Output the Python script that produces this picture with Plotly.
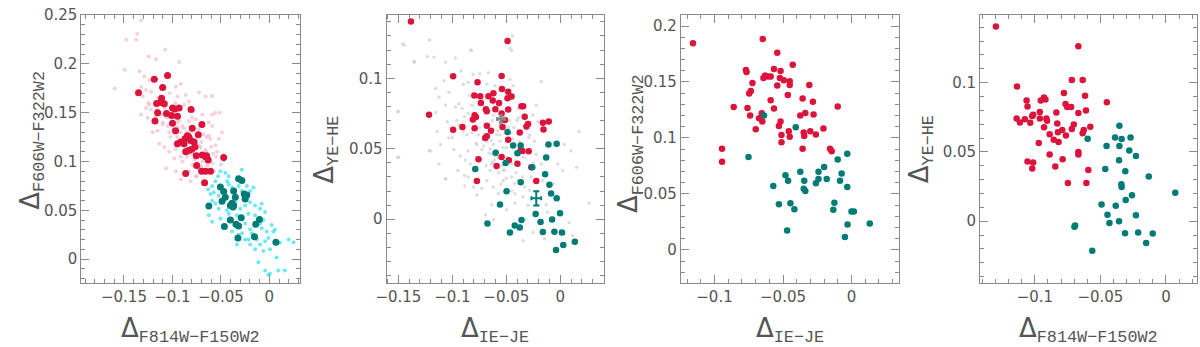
import plotly.graph_objects as go

# colours
RED = '#dc143c'
TEAL = '#007b76'
PINK = 'rgba(240,170,195,0.55)'
CYAN = 'rgba(60,225,240,0.75)'
GREY = 'rgba(200,200,200,0.6)'
FRAME = '#8a8a8a'

# ---- panel 1: F814W-F150W2 vs F606W-F322W2 ----
p1_red_x = [-0.1350, -0.1187, -0.1050, -0.1101, -0.1112, -0.1118, -0.1084, -0.1163, -0.0999, -0.0975,
            -0.0931, -0.1153, -0.1061, -0.1009, -0.0948, -0.1180, -0.0999, -0.0808, -0.0696, -0.0733,
            -0.0795, -0.0968, -0.0846, -0.0829, -0.0870, -0.0948, -0.0914, -0.0880, -0.0812, -0.0777,
            -0.0767, -0.0829, -0.0801, -0.0863, -0.0754, -0.0692, -0.0658, -0.0631, -0.0648, -0.0750,
            -0.0699, -0.0658, -0.0863, -0.0471, -0.0607, -0.0668]
p1_red_y = [0.1705, 0.1842, 0.1881, 0.1758, 0.1648, 0.1605, 0.1592, 0.1595, 0.1548, 0.1538,
            0.1548, 0.1499, 0.1492, 0.1472, 0.1465, 0.1415, 0.1392, 0.1532, 0.1379, 0.1275,
            0.1342, 0.1315, 0.1265, 0.1249, 0.1232, 0.1182, 0.1199, 0.1182, 0.1215, 0.1199,
            0.1149, 0.1116, 0.1126, 0.1099, 0.1059, 0.1066, 0.1049, 0.1016, 0.1059, 0.0959,
            0.0899, 0.0899, 0.0876, 0.1042, 0.0899, 0.0783]
p1_teal_x = [-0.0317, -0.0283, -0.0505, -0.0471, -0.0368, -0.0259, -0.0232, -0.0351, -0.0249, -0.0488,
             -0.0454, -0.0385, -0.0368, -0.0402, -0.0624, -0.0375, -0.0290, -0.0402, -0.0102, -0.0344,
             -0.0317, -0.0140, -0.0464, -0.0324, -0.0153, 0.0068]
p1_teal_y = [0.0823, 0.0806, 0.0739, 0.0693, 0.0699, 0.0666, 0.0656, 0.0633, 0.0616, 0.0593,
             0.0633, 0.0573, 0.0549, 0.0549, 0.0543, 0.0533, 0.0423, 0.0400, 0.0406, 0.0356,
             0.0340, 0.0356, 0.0333, 0.0216, 0.0230, 0.0173]
p1_pink_x = [-0.1364, -0.1374, -0.1477, -0.1074, -0.1245, -0.1170, -0.0931, -0.1494, -0.1596, -0.1340,
             -0.1289, -0.1238, -0.1323, -0.1272, -0.1221, -0.1306, -0.0965, -0.0914, -0.0948, -0.0863,
             -0.0726, -0.0658, -0.0590, -0.0829, -0.0880, -0.1238, -0.1272, -0.1221, -0.1323, -0.1255,
             -0.1170, -0.1101, -0.1204, -0.1153, -0.1050, -0.1033, -0.0897, -0.0829, -0.0760, -0.0692,
             -0.0624, -0.0590, -0.0556, -0.0590, -0.0522, -0.0488, -0.0624, -0.0556, -0.1136, -0.1084,
             -0.1033, -0.0965, -0.0914, -0.0982, -0.0897, -0.0795, -0.0743, -0.0590, -0.1067, -0.0914,
             -0.0812, -0.0760, -0.0965, -0.0726, -0.0829, -0.0850, -0.0750, -0.0700, -0.0650, -0.0950,
             -0.1000, -0.0800, -0.0650, -0.0600, -0.0550, -0.0500, -0.0570, -0.0750, -0.0700, -0.1080,
             -0.1150, -0.1250, -0.0900, -0.0950, -0.0850, -0.1100, -0.0730, -0.0780, -0.0970, -0.1030,
             -0.1323, -0.0512, -0.0680, -0.0880, -0.1020, -0.0790, -0.0720, -0.0930, -0.1120, -0.0610,
             -0.1160, -0.1060, -0.0990, -0.0920, -0.0860, -0.0810, -0.0760, -0.0710, -0.0660, -0.0620,
             -0.1090, -0.1010, -0.0940, -0.0870, -0.0820, -0.0770, -0.0690, -0.0640, -0.0580, -0.0540]
p1_pink_y = [0.2308, 0.2248, 0.2248, 0.2148, 0.2075, 0.2048, 0.2021, 0.1941, 0.1748, 0.1925,
             0.1871, 0.1832, 0.1765, 0.1732, 0.1715, 0.1665, 0.1765, 0.1798, 0.1665, 0.1682,
             0.1708, 0.1665, 0.1672, 0.1615, 0.1582, 0.1582, 0.1548, 0.1532, 0.1482, 0.1449,
             0.1449, 0.1399, 0.1299, 0.1315, 0.1365, 0.1299, 0.1365, 0.1415, 0.1432, 0.1482,
             0.1399, 0.1482, 0.1499, 0.1365, 0.1232, 0.1299, 0.1265, 0.1166, 0.1182, 0.1149,
             0.1099, 0.1132, 0.1049, 0.1032, 0.0999, 0.0966, 0.0982, 0.0982, 0.0932, 0.0816,
             0.0799, 0.0849, 0.0899, 0.0932, 0.0899, 0.1300, 0.1180, 0.1200, 0.1100, 0.1400,
             0.1450, 0.1450, 0.1250, 0.1150, 0.1050, 0.0970, 0.0900, 0.0850, 0.0950, 0.1550,
             0.1650, 0.1600, 0.1200, 0.1250, 0.1050, 0.1380, 0.1330, 0.1520, 0.1600, 0.1700,
             0.2448, 0.1500, 0.1280, 0.1340, 0.1250, 0.1080, 0.1160, 0.1420, 0.1480, 0.1230,
             0.1530, 0.1450, 0.1330, 0.1300, 0.1180, 0.1300, 0.1220, 0.1140, 0.1120, 0.1040,
             0.1480, 0.1380, 0.1350, 0.1150, 0.1080, 0.1020, 0.1000, 0.0960, 0.1080, 0.1100]
p1_cyan_x = [-0.0529, -0.0505, -0.0471, -0.0454, -0.0419, -0.0283, -0.0556, -0.0590, -0.0631, -0.0607,
             -0.0573, -0.0522, -0.0419, -0.0385, -0.0317, -0.0232, -0.0198, -0.0164, -0.0590, -0.0556,
             -0.0522, -0.0436, -0.0419, -0.0249, -0.0198, -0.0147, -0.0095, -0.0351, -0.0300, -0.0624,
             -0.0590, -0.0505, -0.0334, -0.0215, -0.0147, -0.0044, -0.0061, -0.0095, -0.0249, -0.0198,
             -0.0181, -0.0078, -0.0027, -0.0010, 0.0041, 0.0058, -0.0044, -0.0215, -0.0317, -0.0385,
             -0.0334, -0.0198, -0.0147, -0.0095, -0.0061, 0.0007, 0.0075, 0.0109, -0.0113, 0.0007,
             -0.0044, 0.0092, 0.0160, -0.0249, -0.0283, -0.0130, -0.0232, -0.0436, -0.0283, -0.0078,
             -0.0147, 0.0024, 0.0250, 0.0200, -0.0010]
p1_cyan_y = [0.0849, 0.0899, 0.1016, 0.0882, 0.0849, 0.0916, 0.0799, 0.0749, 0.0716, 0.0666,
             0.0683, 0.0649, 0.0766, 0.0733, 0.0749, 0.0749, 0.0699, 0.0733, 0.0599, 0.0566,
             0.0516, 0.0500, 0.0466, 0.0549, 0.0583, 0.0549, 0.0516, 0.0583, 0.0516, 0.0450,
             0.0383, 0.0416, 0.0450, 0.0466, 0.0450, 0.0483, 0.0400, 0.0366, 0.0366, 0.0306,
             0.0266, 0.0316, 0.0283, 0.0216, 0.0283, 0.0300, 0.0183, 0.0200, 0.0250, 0.0283,
             0.0150, 0.0150, 0.0100, 0.0150, 0.0083, 0.0100, 0.0017, 0.0167, -0.0033, -0.0150,
             -0.0117, -0.0117, -0.0117, 0.0200, 0.0266, 0.0200, 0.0633, 0.0799, 0.0699, 0.0566,
             0.0366, 0.0350, 0.0173, 0.0200, -0.0160]

# ---- panel 2: IE-JE vs YE-HE ----
p2_red_x = [-0.1384, -0.0489, -0.0993, -0.0544, -0.0767, -0.1216, -0.0993, -0.0907, -0.0797, -0.0742,
            -0.0666, -0.0620, -0.0541, -0.0483, -0.0452, -0.0489, -0.0736, -0.0626, -0.0568, -0.0690,
            -0.0681, -0.0602, -0.0483, -0.0360, -0.0345, -0.0544, -0.0794, -0.0810, -0.0782, -0.0330,
            -0.0513, -0.0681, -0.0794, -0.0535, -0.0299, -0.0314, -0.0162, -0.0107, -0.0156, -0.0642,
            -0.0376, -0.0696, -0.0681, -0.0483, -0.0367, -0.0351, -0.0293, -0.0544, -0.0477, -0.0758,
            -0.0590, -0.0397, -0.0269, -0.0773, -0.0223]
p2_red_y = [0.1403, 0.1264, 0.1014, 0.1016, 0.0972, 0.0741, 0.0634, 0.0655, 0.0877, 0.0873,
            0.0873, 0.0894, 0.0924, 0.0905, 0.0870, 0.0859, 0.0824, 0.0843, 0.0824, 0.0780,
            0.0766, 0.0780, 0.0778, 0.0801, 0.0801, 0.0750, 0.0738, 0.0708, 0.0725, 0.0727,
            0.0704, 0.0664, 0.0646, 0.0655, 0.0676, 0.0657, 0.0685, 0.0694, 0.0637, 0.0627,
            0.0616, 0.0576, 0.0588, 0.0563, 0.0491, 0.0484, 0.0482, 0.0442, 0.0419, 0.0426,
            0.0377, 0.0394, 0.0368, 0.0271, 0.0271]
p2_teal_x = [-0.0489, -0.0437, -0.0367, -0.0397, -0.0599, -0.0507, -0.0788, -0.0260, -0.0110, -0.0034,
             -0.0131, -0.0141, -0.0367, -0.0101, -0.0086, -0.0034, -0.0498, -0.0559, -0.0229, -0.0003,
             -0.0360, -0.0183, -0.0076, -0.0675, -0.0422, -0.0376, -0.0467, -0.0162, -0.0055, 0.0015,
             0.0134, 0.0027, -0.0040]
p2_teal_y = [0.0618, 0.0523, 0.0523, 0.0468, 0.0472, 0.0398, 0.0357, 0.0368, 0.0530, 0.0535,
             0.0438, 0.0319, 0.0262, 0.0245, 0.0183, 0.0148, 0.0199, 0.0104, 0.0037, 0.0042,
             -0.0005, -0.0019, -0.0002, -0.0030, -0.0044, -0.0058, -0.0095, -0.0090, -0.0088, -0.0095,
             -0.0160, -0.0183, -0.0218]
p2_grey_x = [-0.1460, -0.1210, -0.1353, -0.1231, -0.1170, -0.1063, -0.0972, -0.0825, -0.0920, -0.1079,
             -0.1155, -0.1033, -0.1124, -0.0899, -0.0853, -0.0807, -0.0746, -0.0681, -0.1500, -0.1155,
             -0.1063, -0.0972, -0.1048, -0.1140, -0.1033, -0.1109, -0.1216, -0.0988, -0.0927, -0.0856,
             -0.0819, -0.0865, -0.0773, -0.0727, -0.0681, -0.0889, -0.0853, -0.0941, -0.1497, -0.1063,
             -0.0950, -0.0889, -0.0853, -0.0886, -0.0804, -0.0773, -0.0727, -0.0681, -0.0651, -0.0626,
             -0.0635, -0.0693, -0.0620, -0.0834, -0.0819, -0.0620, -0.0773, -0.0910,
             -0.0443, -0.0468, -0.0452, -0.0177, -0.0223, 0.0174, 0.0098, 0.0150, 0.0266, 0.0037,
             -0.0024, 0.0021, -0.0177, -0.0284, -0.0238, -0.0223, -0.0391, -0.0315, -0.0620, -0.0590,
             -0.0620, -0.0559, -0.0574, -0.0636, -0.0529, -0.0452, -0.0422, -0.0391, -0.0330, -0.0620,
             -0.0574, -0.0345, -0.0284, -0.0422, -0.0498, -0.0636, -0.0330, -0.0345, -0.0131, -0.0086,
             0.0037, -0.0162, -0.0413, -0.0452, -0.0529, -0.0559, -0.0651, -0.0498, -0.0254, -0.0208,
             -0.0437, -0.0468, -0.0666, -0.0605, -0.1506, -0.1506, -0.1445, -0.1353, -0.1201, -0.1063,
             -0.1124, -0.0828, 0.0082, 0.0113, -0.0254, -0.0147, -0.0560, -0.0480, -0.0400, -0.0520,
             -0.0700, -0.0750, -0.0600, -0.0450, -0.0350, -0.0300, -0.0250, -0.0550, -0.0650, -0.0580,
             -0.0710, -0.0660, -0.0610, -0.0570, -0.0530, -0.0490, -0.0440, -0.0410, -0.0370, -0.0330,
             -0.0760, -0.0690, -0.0640, -0.0590, -0.0540, -0.0500, -0.0460, -0.0420, -0.0380, -0.0290,
             -0.0720, -0.0680, -0.0630, -0.0580, -0.0510, -0.0470, -0.0430, -0.0390, -0.0340, -0.0270,
             -0.0960, -0.0900, -0.0840, -0.0780, -0.1000, -0.0940, -0.0880, -0.0200, -0.0120, -0.0060]
p2_grey_y = [0.1243, 0.1271, 0.1114, 0.1155, 0.1150, 0.1114, 0.1144, 0.1197, 0.1051, 0.0982,
             0.0928, 0.0901, 0.0866, 0.0958, 0.0970, 0.1028, 0.1032, 0.0958, 0.0766, 0.0757,
             0.0808, 0.0796, 0.0692, 0.0623, 0.0576, 0.0530, 0.0488, 0.0495, 0.0449, 0.0484,
             0.0611, 0.0600, 0.0530, 0.0495, 0.0553, 0.0727, 0.0750, 0.0669, 0.0438, 0.0287,
             0.0345, 0.0310, 0.0299, 0.0236, 0.0229, 0.0171, 0.0218, 0.0275, 0.0345, 0.0403,
             0.0461, 0.0032, -0.0002, 0.0391, 0.0808, 0.0820, 0.0438, 0.0785,
             0.1299, 0.1213, 0.1197, 0.0977, 0.0808, 0.0623, 0.0484, 0.0368, 0.0113, 0.0530,
             0.0391, 0.0345, 0.0391, 0.0600, 0.0553, 0.0461, 0.0785, 0.0646, 0.0739, 0.0600,
             0.0530, 0.0553, 0.0438, 0.0391, 0.0275, 0.0299, 0.0252, 0.0275, 0.0229, 0.0229,
             0.0183, 0.0160, 0.0206, 0.0113, 0.0067, 0.0102, -0.0002, -0.0153, 0.0102, -0.0002,
             -0.0106, 0.0275, 0.0414, 0.0391, 0.0345, 0.0669, 0.0623, 0.0507, 0.0739, 0.0692,
             0.0947, 0.0993, 0.1039, 0.0947, 0.0762, 0.0442, 0.1236, 0.1120, 0.0484, 0.0285,
             0.0391, 0.1201, -0.0025, -0.0118, -0.0095, -0.0141, 0.0600, 0.0650, 0.0700, 0.0350,
             0.0600, 0.0650, 0.0450, 0.0200, 0.0300, 0.0100, 0.0400, 0.0250, 0.0500, 0.0800,
             0.0520, 0.0470, 0.0420, 0.0330, 0.0510, 0.0440, 0.0570, 0.0330, 0.0620, 0.0470,
             0.0600, 0.0380, 0.0560, 0.0480, 0.0380, 0.0290, 0.0610, 0.0180, 0.0550, 0.0580,
             0.0850, 0.0760, 0.0700, 0.0630, 0.0850, 0.0700, 0.0650, 0.0720, 0.0440, 0.0300,
             0.0700, 0.0620, 0.0880, 0.0540, 0.0580, 0.0820, 0.0420, 0.0100, 0.0050, 0.0250]
p2_err_x = [-0.0550, -0.0223]
p2_err_y = [0.0711, 0.0148]

# ---- panel 3: IE-JE vs F606W-F322W2 ----
p3_red_x = [-0.1157, -0.0648, -0.0542, -0.0429, -0.0771, -0.0766, -0.0566, -0.0631, -0.0610, -0.0590,
            -0.0643, -0.0518, -0.0523, -0.0494, -0.0451, -0.0451, -0.0542, -0.0723, -0.0308, -0.0735,
            -0.0747, -0.0590, -0.0465, -0.0357, -0.0282, -0.0860, -0.0759, -0.0566, -0.0101, -0.0740,
            -0.0655, -0.0651, -0.0675, -0.0651, -0.0374, -0.0337, -0.0277, -0.0699, -0.0518, -0.0530,
            -0.0511, -0.0458, -0.0451, -0.0349, -0.0345, -0.0301, -0.0260, -0.0205, -0.0511, -0.0357,
            -0.0157, -0.0145, -0.0945, -0.0945]
p3_red_y = [0.1846, 0.1884, 0.1762, 0.1654, 0.1608, 0.1590, 0.1616, 0.1558, 0.1549, 0.1549,
            0.1535, 0.1599, 0.1535, 0.1515, 0.1506, 0.1474, 0.1468, 0.1491, 0.1474, 0.1419,
            0.1398, 0.1337, 0.1384, 0.1352, 0.1323, 0.1276, 0.1267, 0.1264, 0.1282, 0.1201,
            0.1221, 0.1201, 0.1177, 0.1148, 0.1201, 0.1224, 0.1209, 0.1078, 0.1148, 0.1108,
            0.1026, 0.1061, 0.1012, 0.1049, 0.1017, 0.1061, 0.1032, 0.1084, 0.0962, 0.0904,
            0.0904, 0.0881, 0.0904, 0.0788]
p3_teal_x = [-0.0639, -0.0407, -0.0752, -0.0031, -0.0101, -0.0374, -0.0241, -0.0200, -0.0482, -0.0463,
             -0.0345, -0.0072, -0.0084, -0.0241, -0.0181, -0.0260, -0.0349, -0.0337, -0.0571, -0.0031,
             -0.0530, -0.0446, -0.0417, -0.0125, -0.0133, 0.0000, 0.0017, -0.0470, -0.0029, -0.0048,
             0.0133]
p3_teal_y = [0.1201, 0.1096, 0.0831, 0.0858, 0.0808, 0.0698, 0.0698, 0.0741, 0.0666, 0.0619,
             0.0619, 0.0683, 0.0619, 0.0634, 0.0634, 0.0596, 0.0547, 0.0526, 0.0570, 0.0561,
             0.0407, 0.0416, 0.0363, 0.0422, 0.0358, 0.0343, 0.0343, 0.0174, 0.0227, 0.0116,
             0.0235]

# ---- panel 4: F814W-F150W2 vs YE-HE ----
p4_red_x = [-0.1297, -0.0668, -0.1136, -0.0718, -0.0635, -0.0778, -0.0617, -0.0451, -0.1063, -0.1056,
            -0.0955, -0.0930, -0.0919, -0.0766, -0.0753, -0.0723, -0.0610, -0.0668, -0.0836, -0.1013,
            -0.1020, -0.0962, -0.1139, -0.1076, -0.1114, -0.1035, -0.0962, -0.0912, -0.0907, -0.0829,
            -0.0930, -0.0703, -0.0718, -0.0577, -0.0791, -0.0824, -0.0627, -0.0635, -0.0887, -0.0856,
            -0.0763, -0.0819, -0.0970, -0.0668, -0.0668, -0.0887, -0.0788, -0.1056, -0.1013, -0.1020,
            -0.0844, -0.0592, -0.0748, -0.0607]
p4_red_y = [0.1405, 0.1264, 0.0972, 0.1019, 0.1019, 0.0925, 0.0906, 0.0859, 0.0871, 0.0828,
            0.0871, 0.0894, 0.0878, 0.0847, 0.0824, 0.0824, 0.0800, 0.0781, 0.0784, 0.0769,
            0.0760, 0.0788, 0.0741, 0.0736, 0.0713, 0.0711, 0.0741, 0.0741, 0.0725, 0.0706,
            0.0678, 0.0699, 0.0666, 0.0682, 0.0659, 0.0642, 0.0659, 0.0635, 0.0628, 0.0588,
            0.0619, 0.0572, 0.0565, 0.0499, 0.0482, 0.0482, 0.0447, 0.0431, 0.0424, 0.0381,
            0.0395, 0.0369, 0.0275, 0.0275]
p4_teal_x = [-0.0355, -0.0597, -0.0388, -0.0338, -0.0270, -0.0453, -0.0355, -0.0280, -0.0229, -0.0358,
             -0.0463, -0.0310, -0.0131, -0.0340, -0.0338, 0.0071, -0.0259, -0.0307, -0.0491, -0.0383,
             -0.0446, -0.0229, -0.0431, -0.0358, -0.0693, -0.0698, -0.0312, -0.0212, -0.0101, -0.0151,
             -0.0562]
p4_teal_y = [0.0689, 0.0595, 0.0605, 0.0593, 0.0605, 0.0543, 0.0543, 0.0511, 0.0471, 0.0440,
             0.0376, 0.0360, 0.0322, 0.0266, 0.0247, 0.0205, 0.0188, 0.0153, 0.0120, 0.0111,
             0.0047, 0.0042, -0.0014, 0.0000, -0.0031, -0.0040, -0.0087, -0.0082, -0.0089, -0.0158,
             -0.0214]

# axis ranges per panel
x_ranges = [[-0.194, 0.032], [-0.161, 0.040], [-0.1246, 0.0345], [-0.1418, 0.0237]]
y_ranges = [[-0.025, 0.2503], [-0.0456, 0.145], [-0.030, 0.210], [-0.045, 0.149]]
x_domains = [[71 / 1200, 292 / 1200], [379 / 1200, 598 / 1200],
             [676 / 1200, 896 / 1200], [978 / 1200, 1197 / 1200]]
y_domain = [1 - 282 / 347, 1 - 7 / 347]

x_titles = ['F814W−F150W2', 'IE−JE', 'IE−JE', 'F814W−F150W2']
y_titles = ['F606W−F322W2', 'YE−HE', 'F606W−F322W2', 'YE−HE']


def dots(x, y, color, size, xa, ya):
    return go.Scatter(x=x, y=y, mode='markers', xaxis=xa, yaxis=ya, hoverinfo='skip',
                      marker=dict(color=color, size=size, line=dict(width=0)))


fig = go.Figure()
fig.add_trace(dots(p1_pink_x, p1_pink_y, PINK, 4, 'x', 'y'))
fig.add_trace(dots(p1_cyan_x, p1_cyan_y, CYAN, 4, 'x', 'y'))
fig.add_trace(dots(p1_red_x, p1_red_y, RED, 7, 'x', 'y'))
fig.add_trace(dots(p1_teal_x, p1_teal_y, TEAL, 7, 'x', 'y'))

fig.add_trace(dots(p2_grey_x, p2_grey_y, GREY, 3.5, 'x2', 'y2'))
fig.add_trace(dots(p2_red_x, p2_red_y, RED, 6.5, 'x2', 'y2'))
fig.add_trace(dots(p2_teal_x, p2_teal_y, TEAL, 6.5, 'x2', 'y2'))
# mean error bars
fig.add_trace(go.Scatter(x=p2_err_x[:1], y=p2_err_y[:1], mode='markers', xaxis='x2', yaxis='y2',
                         marker=dict(size=1, color='#888'),
                         error_x=dict(type='constant', value=0.0034, color='#888', thickness=2.5, width=2),
                         error_y=dict(type='constant', value=0.0024, color='#888', thickness=2.5, width=2)))
fig.add_trace(go.Scatter(x=p2_err_x[1:], y=p2_err_y[1:], mode='markers', xaxis='x2', yaxis='y2',
                         marker=dict(size=1, color=TEAL),
                         error_x=dict(type='constant', value=0.0045, color=TEAL, thickness=2, width=2),
                         error_y=dict(type='constant', value=0.005, color=TEAL, thickness=2, width=3)))

fig.add_trace(dots(p3_red_x, p3_red_y, RED, 6.5, 'x3', 'y3'))
fig.add_trace(dots(p3_teal_x, p3_teal_y, TEAL, 6.5, 'x3', 'y3'))
fig.add_trace(dots(p4_red_x, p4_red_y, RED, 6.5, 'x4', 'y4'))
fig.add_trace(dots(p4_teal_x, p4_teal_y, TEAL, 6.5, 'x4', 'y4'))

axis_style = dict(showgrid=False, zeroline=False, showline=True, linecolor=FRAME, linewidth=1,
                  mirror='ticks', ticks='inside', ticklen=8, tickcolor=FRAME, tick0=0, dtick=0.05,
                  ticklabeloverflow='allow',
                  minor=dict(ticks='inside', ticklen=4, dtick=0.01, tick0=0, tickcolor=FRAME, showgrid=False),
                  tickfont=dict(family='DejaVu Sans', size=15, color='#555'))

layout = dict(width=1200, height=347, margin=dict(l=0, r=0, t=0, b=0),
              paper_bgcolor='white', plot_bgcolor='white', showlegend=False)
for i in range(4):
    sfx = '' if i == 0 else str(i + 1)
    layout['xaxis' + sfx] = dict(axis_style, domain=x_domains[i], range=x_ranges[i],
                                 anchor='y' + sfx)
    layout['yaxis' + sfx] = dict(axis_style, domain=y_domain, range=y_ranges[i],
                                 anchor='x' + sfx)
fig.update_layout(**layout)

delta = "<span style='font-family:DejaVu Sans;font-size:26px'>Δ</span>"
xt_pos = [(71 + 292) / 2, (379 + 598) / 2, (676 + 896) / 2, (978 + 1197) / 2]
yt_pos = [(21, 135), (318, 145), (625, 139), (918, 145)]
for i in range(4):
    fig.add_annotation(text=delta + '<sub>' + x_titles[i] + '</sub>', xref='paper', yref='paper',
                       x=xt_pos[i] / 1200, y=1 - 330 / 347, xanchor='center', yanchor='middle',
                       showarrow=False, font=dict(family='Liberation Mono', size=24, color='#555'))
    fig.add_annotation(text=delta + '<sub>' + y_titles[i] + '</sub>', xref='paper', yref='paper',
                       x=yt_pos[i][0] / 1200, y=1 - yt_pos[i][1] / 347, xanchor='center', yanchor='middle',
                       textangle=-90, showarrow=False,
                       font=dict(family='Liberation Mono', size=24, color='#555'))

fig.write_html("out.html", config={'displayModeBar': False},
               post_script="document.body.style.margin='0';document.body.style.overflow='hidden';")
